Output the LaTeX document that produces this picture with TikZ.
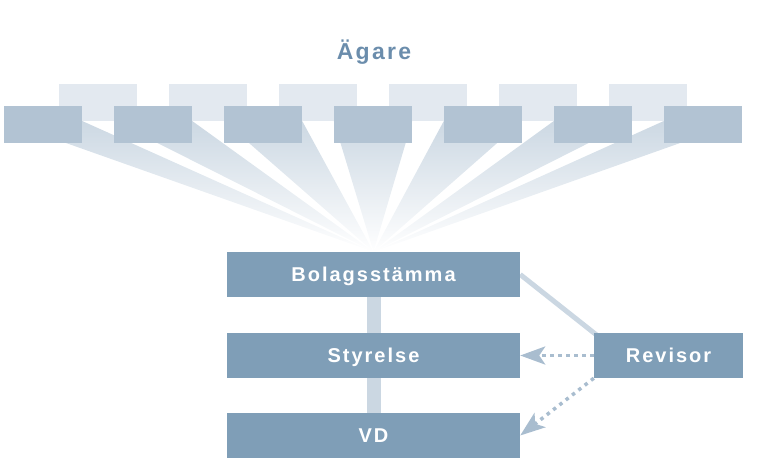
\documentclass[tikz,border=0pt]{standalone}
\usepackage{fontspec}
\setmainfont{Liberation Sans}
\newfontfamily\spacedfont{Liberation Sans}[LetterSpace=10]
\usetikzlibrary{arrows.meta,backgrounds}
\definecolor{Steel}{HTML}{7F9EB7}
\definecolor{Front}{HTML}{B2C3D3}
\definecolor{Back}{HTML}{E3E9F0}
\definecolor{Link}{HTML}{CBD7E2}
\definecolor{Dots}{HTML}{A9BDCF}
\definecolor{Title}{HTML}{6B8DAC}
\definecolor{RayTop}{HTML}{CCD8E3}
\tikzset{
  organ/.style={fill=Steel,text=white,minimum width=293pt,minimum height=45pt,inner sep=0pt,
    text height=14.3pt,text depth=0pt,font=\spacedfont\bfseries\fontsize{20}{20}\selectfont},
  share/.style={minimum width=78pt,minimum height=37pt,inner sep=0pt},
  link/.style={Link,line width=14pt},
  audit/.style={Dots,line width=3.5pt,dash pattern=on 3.5pt off 4.5pt,
    -{Stealth[length=25pt,width=18pt,inset=6pt]}}
}
\begin{document}
\begin{tikzpicture}[x=1pt,y=-1pt]
      \useasboundingbox (0,0) rectangle (779,471);
      \node[anchor=base,text=Title,font=\spacedfont\bfseries\fontsize{23}{23}\selectfont] (owners) at (374,59) {Ägare};
      % shareholders, two rows
      \foreach \i in {1,...,6}
        \node[share,fill=Back] (b\i) at ({98+110*(\i-1)},102.5) {};
      \foreach \i in {1,...,7}
        \node[share,fill=Front] (o\i) at ({43+110*(\i-1)},124.5) {};
      \node[organ] (meeting) at (373.5,274.5) {Bolagsstämma};
      \node[organ] (board) at (373.5,355.5) {Styrelse};
      \node[organ] (ceo) at (373.5,435.5) {VD};
      \node[organ,minimum width=149pt] (auditor) at (668.5,355.5) {Revisor};
      \begin{pgfonlayer}{background}
        \foreach \i in {1,...,7}
          \shade[top color=RayTop,bottom color=white]
            ([yshift=3.5pt]o\i.west) -- ([yshift=3.5pt]o\i.east) -- (meeting.north) -- cycle;
        \draw[link] (meeting) -- (ceo);
        \draw[link,line width=5pt,shorten >=-4pt] (meeting.east) -- (auditor.north west);
      \end{pgfonlayer}
      \draw[audit] (auditor.west) -- (board.east);
      \draw[audit] (auditor.south west) -- (ceo.east);
    \end{tikzpicture}
\end{document}
